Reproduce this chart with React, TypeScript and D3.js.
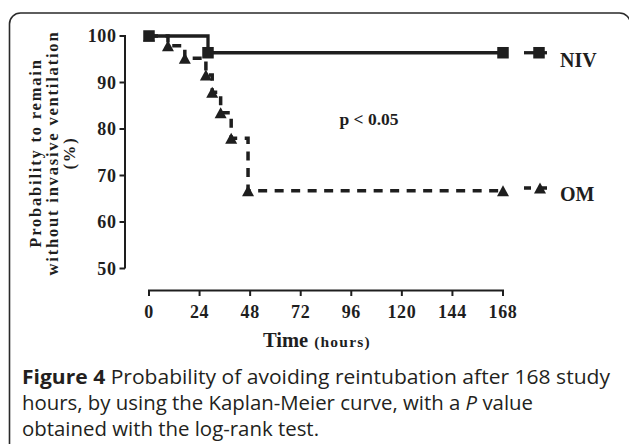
import React from "react";
import * as d3 from "d3";

const xTicks = [0, 24, 48, 72, 96, 120, 144, 168];
const yTicks = [50, 60, 70, 80, 90, 100];
const nivTimes = [0, 28, 168];
const nivValues = [100, 96.4, 96.4];
const omTimes = [0, 9, 17, 27, 30, 34, 39, 47, 168];
const omValues = [100, 97.9, 95.2, 91.6, 87.9, 83.5, 78.0, 66.7, 66.7];
const seriesLabels = ["NIV", "OM"];
const pText = "p < 0.05";
const yTitleLines = ["Probability to remain", "without invasive ventilation", "(%)"];

const W = 629;
const H = 444;
const serif = "'Liberation Serif', 'Times New Roman', serif";
const sans = "'Open Sans', 'Noto Sans', sans-serif";
const ink = "#1e1e1e";

export default function App() {
  const x = d3.scaleLinear().domain([0, 168]).range([149, 503]);
  const y = d3.scaleLinear().domain([50, 100]).range([268.5, 36]);
  const line = d3
    .line<[number, number]>()
    .x((d) => x(d[0]))
    .y((d) => y(d[1]))
    .curve(d3.curveStepAfter);
  const niv: [number, number][] = nivTimes.map((t, i) => [t, nivValues[i]]);
  const om: [number, number][] = omTimes.map((t, i) => [t, omValues[i]]);
  const sq = 11.5;
  const triW = 12;
  const triH = 11;
  const tri = (cx: number, cy: number) =>
    `M${cx - triW / 2},${cy + triH / 2}L${cx},${cy - triH / 2}L${cx + triW / 2},${cy + triH / 2}Z`;
  const axisX = 125;
  const axisY = 290.5;
  const nivLegY = y(nivValues[nivValues.length - 1]);
  const omLegY = 188;

  return (
    <svg
      width={W}
      height={H}
      style={{ position: "absolute", left: 0, top: 0, background: "#fff" }}
    >
      <rect x={9.5} y={13} width={621} height={460} rx={11} ry={11} fill="none" stroke="#2a2a2a" strokeWidth={1.6} />

      {/* y axis */}
      <line x1={axisX} x2={axisX} y1={y(50)} y2={y(100) - 1} stroke={ink} strokeWidth={2} />
      {yTicks.map((v) => (
        <g key={v}>
          <line x1={axisX - 5.5} x2={axisX} y1={y(v)} y2={y(v)} stroke={ink} strokeWidth={2} />
          <text
            x={116.5}
            y={y(v)}
            dy="0.35em"
            textAnchor="end"
            fontFamily={serif}
            fontWeight="bold"
            fontSize={18}
            letterSpacing={0.6}
            fill={ink}
          >
            {v}
          </text>
        </g>
      ))}

      {/* x axis */}
      <line x1={x(0) - 1} x2={x(168) + 1} y1={axisY} y2={axisY} stroke={ink} strokeWidth={2} />
      {xTicks.map((t) => (
        <g key={t}>
          <line x1={x(t)} x2={x(t)} y1={axisY} y2={axisY + 5.5} stroke={ink} strokeWidth={2} />
          <text
            x={x(t)}
            y={317.5}
            textAnchor="middle"
            fontFamily={serif}
            fontWeight="bold"
            fontSize={18}
            letterSpacing={0.6}
            fill={ink}
          >
            {t}
          </text>
        </g>
      ))}

      {/* axis titles */}
      <text x={263} y={347} fontFamily={serif} fontWeight="bold" fill={ink}>
        <tspan fontSize={20.5}>Time</tspan>
        <tspan fontSize={15.5} letterSpacing={1.2} dx={6}>(hours)</tspan>
      </text>
      {yTitleLines.map((s, i) => (
        <text
          key={s}
          transform={`translate(${41 + i * 17},153) rotate(-90)`}
          textAnchor="middle"
          fontFamily={serif}
          fontWeight="bold"
          fontSize={16.5}
          letterSpacing={1.8}
          fill={ink}
        >
          {s}
        </text>
      ))}

      {/* curves */}
      <path d={line(om) || ""} fill="none" stroke={ink} strokeWidth={3.5} strokeDasharray="9,7.5" />
      <path d={line(niv) || ""} fill="none" stroke={ink} strokeWidth={3.3} />
      {om.map((d, i) => (
        <path key={"t" + i} d={tri(x(d[0]), y(d[1]))} fill={ink} />
      ))}
      {niv.map((d, i) => (
        <rect key={"s" + i} x={x(d[0]) - sq / 2} y={y(d[1]) - sq / 2} width={sq} height={sq} fill={ink} />
      ))}

      {/* legend */}
      <line x1={524} x2={547} y1={nivLegY} y2={nivLegY} stroke={ink} strokeWidth={3.3} />
      <rect x={539 - sq / 2} y={nivLegY - sq / 2} width={sq} height={sq} fill={ink} />
      <text x={560} y={67} fontFamily={serif} fontWeight="bold" fontSize={20} fill={ink}>
        {seriesLabels[0]}
      </text>
      <line x1={524} x2={548} y1={omLegY} y2={omLegY} stroke={ink} strokeWidth={3.5} strokeDasharray="7,9" />
      <path d={tri(540, omLegY)} fill={ink} />
      <text x={560} y={201} fontFamily={serif} fontWeight="bold" fontSize={20} fill={ink}>
        {seriesLabels[1]}
      </text>

      <text x={369} y={125} textAnchor="middle" fontFamily={serif} fontWeight="bold" fontSize={17.5} fill={ink}>
        {pText}
      </text>

      {/* caption */}
      <g fontFamily={sans} fontSize={19.5} fill="#231f20">
        <text x={22} y={384} textLength={588} lengthAdjust="spacingAndGlyphs">
          <tspan fontWeight="bold">Figure 4</tspan>
          <tspan> Probability of avoiding reintubation after 168 study</tspan>
        </text>
        <text x={22} y={410} textLength={511} lengthAdjust="spacingAndGlyphs">
          <tspan>hours, by using the Kaplan-Meier curve, with a </tspan>
          <tspan fontStyle="italic">P</tspan>
          <tspan> value</tspan>
        </text>
        <text x={22} y={436} textLength={297} lengthAdjust="spacingAndGlyphs">
          obtained with the log-rank test.
        </text>
      </g>
    </svg>
  );
}
